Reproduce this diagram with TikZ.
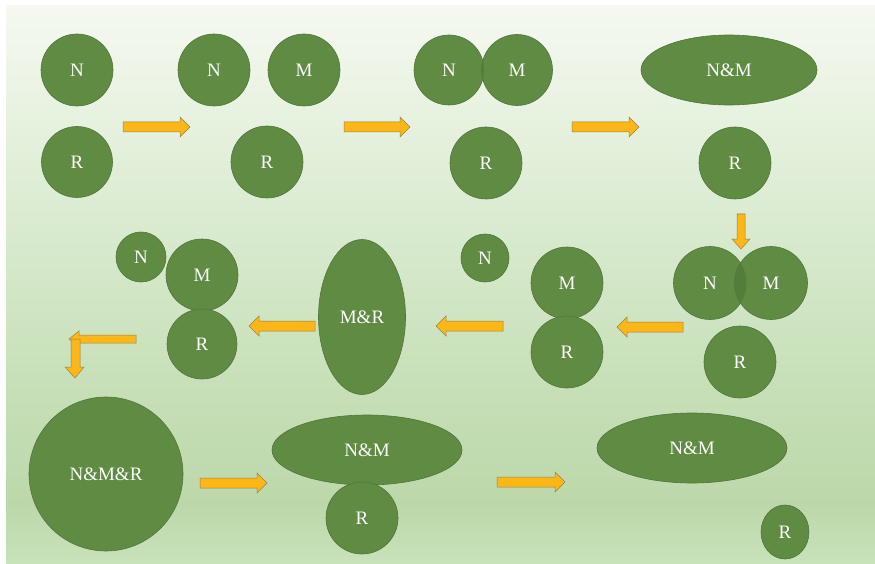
\documentclass[tikz,border=0pt]{standalone}
\usepackage{fontspec}
\setmainfont{Liberation Serif}
\usetikzlibrary{shapes.geometric}
\definecolor{leaf}{RGB}{95,139,67}
\definecolor{leafline}{RGB}{80,118,60}
\definecolor{leafdark}{RGB}{84,124,58}
\definecolor{arrowfill}{RGB}{252,182,22}
\definecolor{arrowline}{RGB}{150,130,80}
\definecolor{bgA}{RGB}{200,226,186}
\definecolor{bgB}{RGB}{188,216,170}
\definecolor{bgC}{RGB}{198,223,183}
\definecolor{bgD}{RGB}{220,236,210}
\definecolor{bgE}{RGB}{245,249,241}
\pgfdeclareverticalshading{bgshade}{100bp}{color(0bp)=(bgA); color(25bp)=(bgA); color(30.4bp)=(bgB); color(40.2bp)=(bgC); color(57.3bp)=(bgD); color(75bp)=(bgE); color(100bp)=(bgE)}
\tikzset{
  lbl/.style={text=white, font=\fontsize{19}{19}\selectfont},
  blob/.style={circle, fill=leaf, draw=leafline, line width=0.6pt, inner sep=0pt, lbl},
  oval/.style={blob, ellipse},
  barrowstyle/.style={fill=arrowfill, draw=arrowline, line width=0.5pt, line join=miter},
}
\newcommand{\blockarrow}[4]{% x, y (tail centre), length, angle
  \filldraw[barrowstyle, shift={(#1,#2)}, rotate=#4]
    (0,-5) -- (#3-10,-5) -- (#3-10,-10) -- (#3,0) -- (#3-10,10) -- (#3-10,5) -- (0,5) -- cycle;}
\begin{document}
\begin{tikzpicture}[x=1pt,y=-1pt]
\useasboundingbox (0,0) rectangle (875,564);
\fill[white] (0,0) rectangle (875,564);
\shade[shading=bgshade] (6,6) rectangle (875,564);

% row 1
\node[blob, minimum size=72pt] (n1) at (77,70) {N};
\node[blob, minimum size=71pt] (r1) at (77,162) {R};
\node[blob, minimum size=72pt] (n2) at (214,70) {N};
\node[blob, minimum size=72pt] (m2) at (304,70) {M};
\node[blob, minimum size=72pt] (r2) at (267,162) {R};
\node[blob, minimum size=70pt] (n3) at (449,70) {};
\node[blob, minimum size=71pt] (m3) at (517,70) {};
\begin{scope}
  \clip (449,70) circle[radius=35pt];
  \fill[leafdark] (517,70) circle[radius=35.5pt];
\end{scope}
\node[lbl] at (n3) {N};
\node[lbl] at (m3) {M};
\node[blob, minimum size=72pt] (r3) at (486,163) {R};
\node[oval, minimum width=176pt, minimum height=70pt] (nm4) at (729,70) {N\&M};
\node[blob, minimum size=72pt] (r4) at (735,163) {R};

% row 2
\node[blob, minimum size=73pt] (n5) at (710,283) {};
\node[blob, minimum size=73pt] (m5) at (771,283) {};
\begin{scope}
  \clip (710,283) circle[radius=36.5pt];
  \fill[leafdark] (771,283) circle[radius=36.5pt];
\end{scope}
\node[lbl] at (n5) {N};
\node[lbl] at (m5) {M};
\node[blob, minimum size=72pt] (r5) at (740,362) {R};
\node[blob, minimum size=72pt] (m6) at (567,283) {M};
\node[blob, minimum size=72pt] (r6) at (567,352) {R};
\node[blob, minimum size=48pt] (n6) at (485,258) {N};
\node[oval, minimum width=87pt, minimum height=155pt] (mr7) at (362,317) {M\&R};
\node[blob, minimum size=50pt] (n8) at (141,257) {N};
\node[blob, minimum size=72pt] (m8) at (202,275) {M};
\node[blob, minimum size=70pt] (r8) at (202,344) {R};

% row 3
\node[blob, minimum size=154pt] (nmr9) at (106,474) {N\&M\&R};
\node[oval, minimum width=190pt, minimum height=70pt] (nm10) at (367,450) {N\&M};
\node[blob, minimum size=72pt] (r10) at (362,518) {R};
\node[oval, minimum width=190pt, minimum height=70pt] (nm11) at (692,448) {N\&M};
\node[oval, minimum width=48pt, minimum height=54pt] (r11) at (785,532) {R};

% block arrows
\blockarrow{123}{127}{67}{0}
\blockarrow{344}{127}{66}{0}
\blockarrow{572}{127}{67}{0}
\filldraw[barrowstyle] (737,214) -- (745,214) -- (745,239) -- (750,239) -- (741,249) -- (732,239) -- (737,239) -- cycle;
\blockarrow{683}{327}{66}{180}
\blockarrow{503}{326}{67}{180}
\blockarrow{315}{326}{66}{180}
% bent arrow
\filldraw[barrowstyle] (136,335) -- (79,335) -- (79,331) -- (69,339) -- (79,347) -- (79,343) -- (136,343) -- cycle;
\filldraw[barrowstyle] (71,339) -- (80,339) -- (80,367) -- (84,367) -- (75,378) -- (65,367) -- (71,367) -- cycle;
\blockarrow{200}{483}{67}{0}
\blockarrow{497}{482}{68}{0}
\end{tikzpicture}
\end{document}
